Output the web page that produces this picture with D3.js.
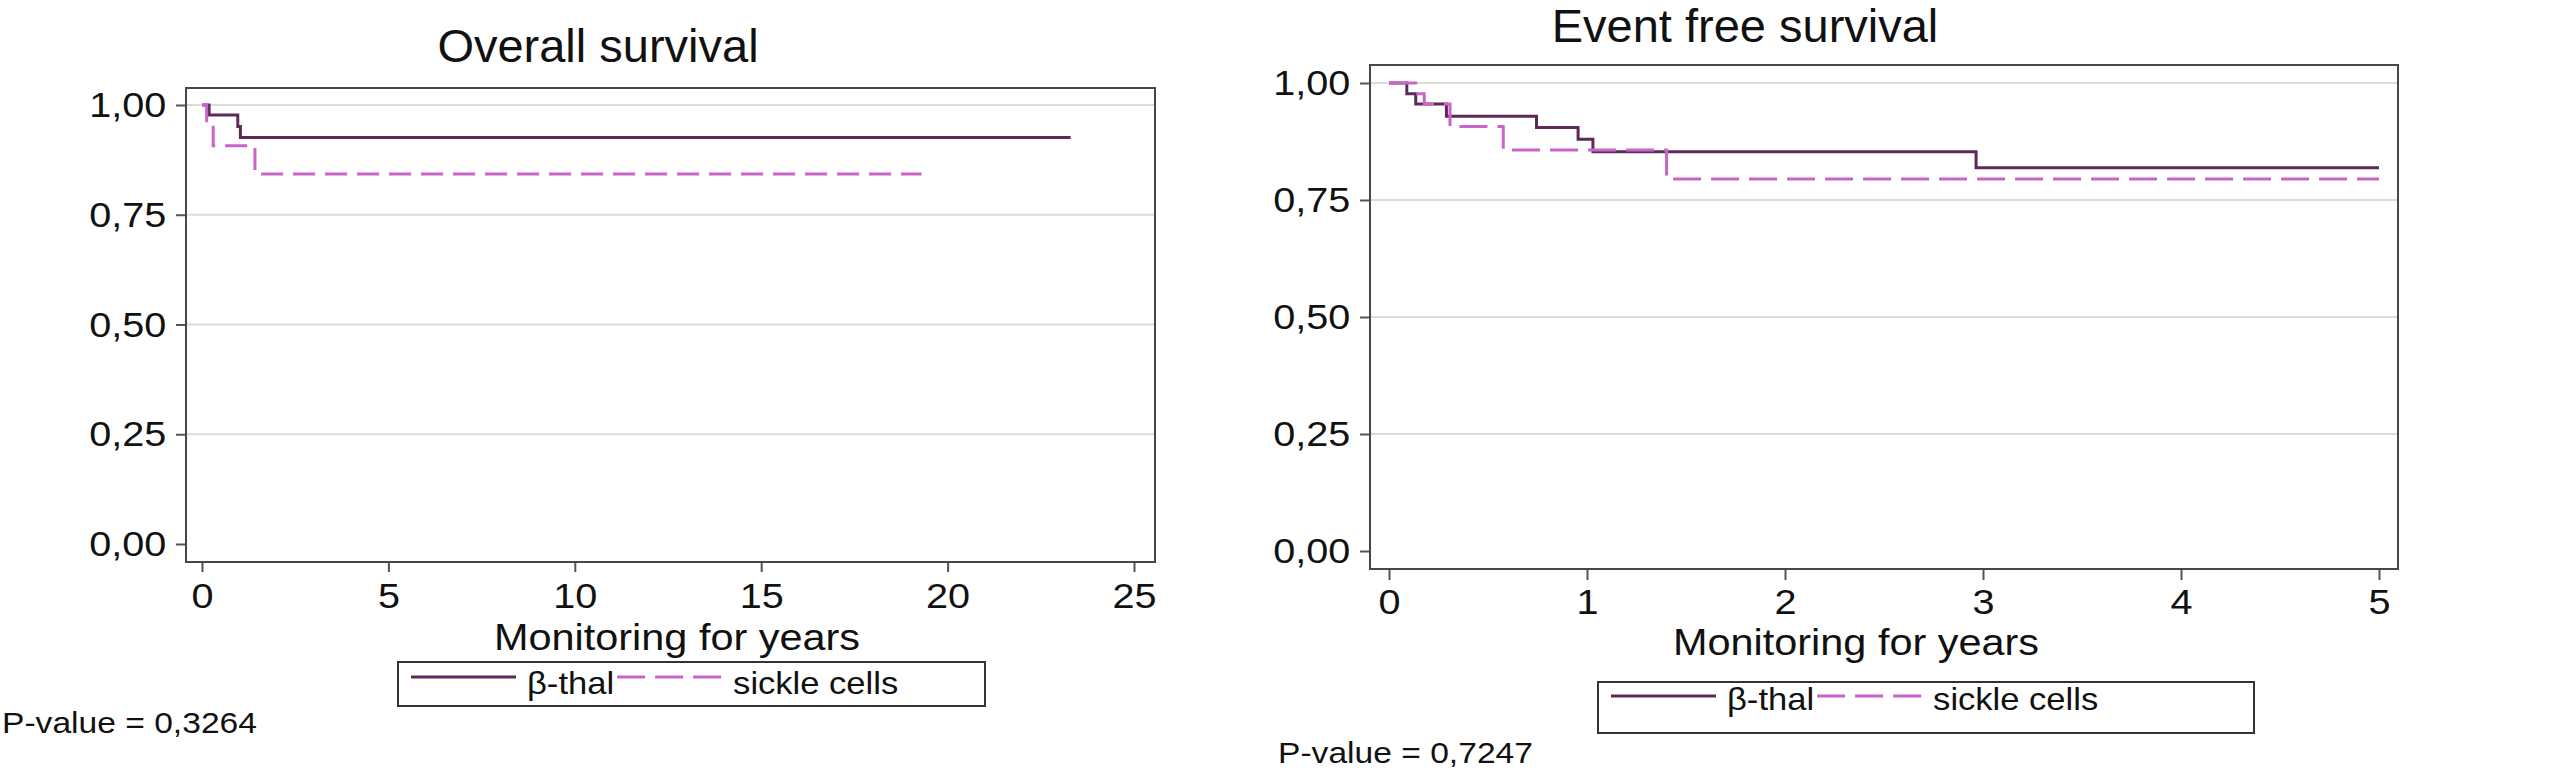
<!DOCTYPE html>
<html>
<head>
<meta charset="utf-8">
<script src="https://cdn.jsdelivr.net/npm/d3@7"></script>
<style>
  body { margin: 0; background: #fff; }
  text { font-family: "Liberation Sans", Arial, Helvetica, sans-serif; fill: #111; }
</style>
</head>
<body>
<svg id="mainSVG" width="2565" height="772"></svg>
<script>
// groups and tick values
var groups = ["β-thal", "sickle cells"];
var survTicks = [0, 0.25, 0.5, 0.75, 1];
var osYearTicks = [0, 5, 10, 15, 20, 25];
var efsYearTicks = [0, 1, 2, 3, 4, 5];

// overall survival (years, survival probability)
var osThalTime = [0, 0.19, 0.96, 1.03, 23.3];
var osThalSurv = [1, 0.977, 0.951, 0.926, 0.926];
var osSickleTime = [0, 0.125, 0.30, 1.42, 19.3];
var osSickleSurv = [1, 0.955, 0.907, 0.843, 0.843];

// event free survival
var efsThalTime = [0, 0.09, 0.135, 0.29, 0.745, 0.955, 1.03, 2.965, 5.0];
var efsThalSurv = [1, 0.977, 0.955, 0.929, 0.905, 0.880, 0.853, 0.819, 0.819];
var efsSickleTime = [0, 0.135, 0.178, 0.308, 0.577, 1.402, 5.0];
var efsSickleSurv = [1, 0.977, 0.955, 0.907, 0.857, 0.795, 0.795];

var pValues = ["0,3264", "0,7247"];

var thalColor = "#5b2a57";
var sickleColor = "#c965c9";

var svg = d3.select("#mainSVG");

// text helper, sx stretches glyphs horizontally like the original
function addText(g, x, y, str, size, anchor, sx) {
  return g.append("text")
    .attr("transform", "translate(" + x + "," + y + ") scale(" + sx + ",1)")
    .attr("text-anchor", anchor)
    .style("font-size", size + "px")
    .text(str);
}

var panels = [
  {
    title: "Overall survival", titleX: 598, titleY: 62,
    xDomain: [0, 25], xRange: [202, 1134], yRange: [544, 105],
    frame: [186, 88, 1155, 562], xTicks: osYearTicks, xTickLen: 10, xPad: 10,
    axisTitleX: 677, axisTitleY: 650,
    series: [[osThalTime, osThalSurv], [osSickleTime, osSickleSurv]], dash: "22,10",
    legend: {x: 398, y: 662, w: 587, h: 44, lineY: 677, textY: 694},
    pX: 2, pY: 733, p: pValues[0]
  },
  {
    title: "Event free survival", titleX: 1745, titleY: 42,
    xDomain: [0, 5], xRange: [1389, 2379], yRange: [551, 83],
    frame: [1370, 65, 2398, 569], xTicks: efsYearTicks, xTickLen: 11, xPad: 8,
    axisTitleX: 1856, axisTitleY: 655,
    series: [[efsThalTime, efsThalSurv], [efsSickleTime, efsSickleSurv]], dash: "28,10",
    legend: {x: 1598, y: 682, w: 656, h: 51, lineY: 696, textY: 710},
    pX: 1278, pY: 763, p: pValues[1]
  }
];

function drawPanel(p) {
  var g = svg.append("g");
  var x = d3.scaleLinear().domain(p.xDomain).range(p.xRange);
  var y = d3.scaleLinear().domain([0, 1]).range(p.yRange);
  var f = p.frame;

  // gridlines
  g.selectAll(".grid").data(survTicks.filter(function(d) { return d > 0; }))
    .enter().append("line")
    .attr("x1", f[0]).attr("x2", f[2])
    .attr("y1", function(d) { return y(d); }).attr("y2", function(d) { return y(d); })
    .attr("stroke", "#dcdcdc").attr("stroke-width", 2);

  // axes
  var fmt = function(d) { return d3.format(".2f")(d).replace(".", ","); };
  var ya = g.append("g").attr("transform", "translate(" + f[0] + ",0)")
    .call(d3.axisLeft(y).tickValues(survTicks).tickSize(10).tickPadding(8).tickFormat(fmt));
  var xa = g.append("g").attr("transform", "translate(0," + f[3] + ")")
    .call(d3.axisBottom(x).tickValues(p.xTicks).tickSize(p.xTickLen).tickPadding(p.xPad)
      .tickFormat(d3.format("d")));
  [ya, xa].forEach(function(a) {
    a.select(".domain").remove();
    a.selectAll("line").attr("stroke", "#555").attr("stroke-width", 2);
    a.selectAll("text").attr("fill", "#111").attr("transform", "scale(1.1,1)")
      .style("font-size", "36px")
      .style("font-family", "'Liberation Sans', Arial, Helvetica, sans-serif");
  });

  // frame
  g.append("rect").attr("x", f[0]).attr("y", f[1])
    .attr("width", f[2] - f[0]).attr("height", f[3] - f[1])
    .attr("fill", "none").attr("stroke", "#474747").attr("stroke-width", 2);

  // survival curves
  var line = d3.line()
    .x(function(d) { return x(d[0]); })
    .y(function(d) { return y(d[1]); })
    .curve(d3.curveStepAfter);
  p.series.forEach(function(s, i) {
    g.append("path")
      .datum(d3.zip(s[0], s[1]))
      .attr("d", line)
      .attr("fill", "none")
      .attr("stroke", i == 0 ? thalColor : sickleColor)
      .attr("stroke-width", 3)
      .attr("stroke-dasharray", i == 0 ? null : p.dash);
  });

  // titles
  addText(g, p.titleX, p.titleY, p.title, 47, "middle", 1);
  addText(g, p.axisTitleX, p.axisTitleY, "Monitoring for years", 37, "middle", 1.12);

  // legend
  var L = p.legend;
  g.append("rect").attr("x", L.x).attr("y", L.y).attr("width", L.w).attr("height", L.h)
    .attr("fill", "#fff").attr("stroke", "#333").attr("stroke-width", 2);
  var lx = L.x + 13;
  groups.forEach(function(name, i) {
    g.append("line")
      .attr("x1", lx).attr("x2", lx + 105)
      .attr("y1", L.lineY).attr("y2", L.lineY)
      .attr("stroke", i == 0 ? thalColor : sickleColor)
      .attr("stroke-width", 3)
      .attr("stroke-dasharray", i == 0 ? null : "28,10");
    var t = addText(g, lx + 116, L.textY, name, 32, "start", 1.08);
    lx = lx + 116 + t.node().getBBox().width * 1.08 + 3;
  });

  // p-value
  addText(g, p.pX, p.pY, "P-value = " + p.p, 30, "start", 1.12);
}

panels.forEach(drawPanel);
</script>
</body>
</html>
